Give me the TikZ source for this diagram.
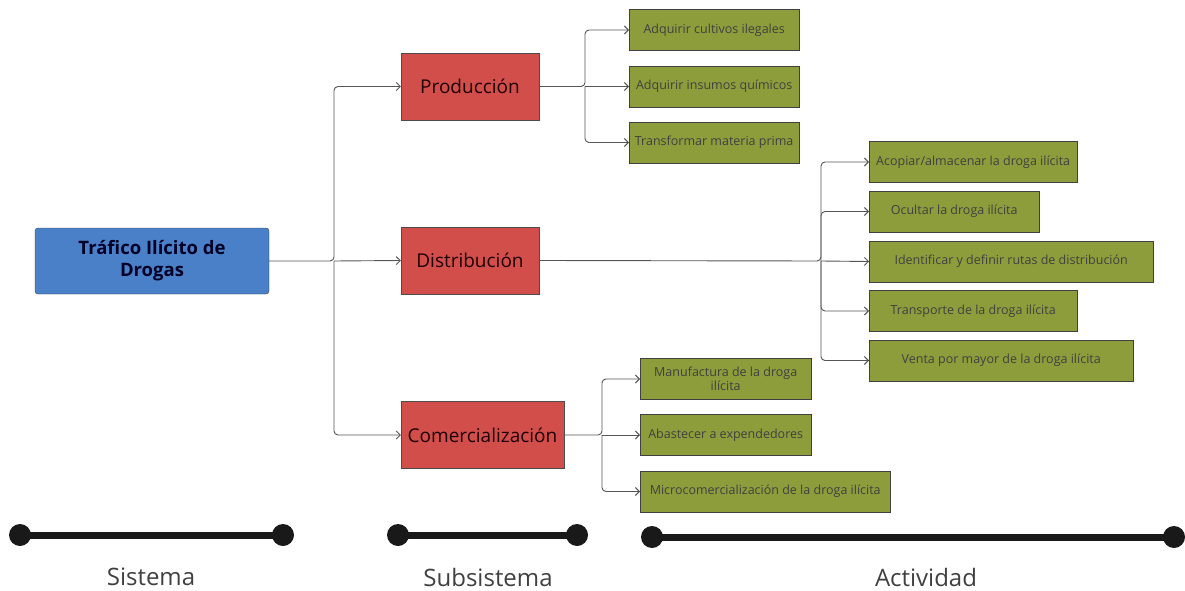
\documentclass[tikz,border=0pt]{standalone}
\usepackage{fontspec}
\setmainfont{Open Sans}
\usepackage{tikz}
\usetikzlibrary{arrows.meta}

\definecolor{sisblue}{HTML}{4A80C8}
\definecolor{subred}{HTML}{D24E4B}
\definecolor{actgreen}{HTML}{8E9D3B}
\definecolor{conngray}{HTML}{555555}

\begin{document}
\begin{tikzpicture}[x=1pt,y=-1pt,
        sistema/.style={draw=black!75,fill=sisblue,rounded corners=3pt,minimum width=234pt,minimum height=66pt,
            align=center,font=\fontsize{18.5}{22}\selectfont\bfseries,text=black!75!blue!60!black},
        subsis/.style={draw=black!70,fill=subred,minimum height=67pt,inner sep=0pt,font=\fontsize{19}{22}\selectfont,text=black!70!red!40!black},
        act/.style={draw=black!75,fill=actgreen,minimum height=41pt,inner sep=0pt,anchor=west,align=center,
            font=\fontsize{12.5}{14}\selectfont,text=black!75},
        conn/.style={draw=conngray,line width=0.9pt,rounded corners=4pt,-{Straight Barb[length=4pt,width=8pt]}},
        bar/.style={line width=7pt,black!90},
        legend/.style={font=\fontsize{24}{28}\selectfont,text=black!75}]

    \useasboundingbox (0,0) rectangle (1185,591);

    % sistema
    \node[sistema] (tra) at (152,261) {Tráfico Ilícito de\\Drogas};

    % subsistemas
    \node[subsis,minimum width=138pt] (prod) at (470,86.5) {Producción};
    \node[subsis,minimum width=138pt] (dist) at (470,260.5) {Distribución};
    \node[subsis,minimum width=163pt] (come) at (482.5,435) {Comercialización};

    % actividades de produccion
    \node[act,minimum width=170pt] (a1) at (629,30) {Adquirir cultivos ilegales};
    \node[act,minimum width=170pt] (a2) at (629,86.5) {Adquirir insumos químicos};
    \node[act,minimum width=170pt] (a3) at (629,142.5) {Transformar materia prima};

    % actividades de distribucion
    \node[act,minimum width=208pt] (b1) at (869,162) {Acopiar/almacenar la droga ilícita};
    \node[act,minimum width=170pt] (b2) at (869,211.5) {Ocultar la droga ilícita};
    \node[act,minimum width=284pt] (b3) at (869,261.5) {Identificar y definir rutas de distribución};
    \node[act,minimum width=208pt] (b4) at (869,311) {Transporte de la droga ilícita};
    \node[act,minimum width=264pt] (b5) at (869,360.5) {Venta por mayor de la droga ilícita};

    % actividades de comercializacion
    \node[act,minimum width=171pt] (c1) at (640,379) {Manufactura de la droga\\ilícita};
    \node[act,minimum width=171pt] (c2) at (640,435) {Abastecer a expendedores};
    \node[act,minimum width=250pt] (c3) at (640,491.5) {Microcomercialización de la droga ilícita};

    % ramas
    \coordinate (tb) at (334,261);
    \coordinate (pb) at (585,86.5);
    \coordinate (db) at (821,261);
    \coordinate (cb) at (602,435);

    \draw[conn] (tra.east) -- (tb) |- (prod.west);
    \draw[conn] (tb) -- (dist.west);
    \draw[conn] (tb) |- (come.west);

    \draw[conn] (prod.east) -- (pb) |- (a1.west);
    \draw[conn] (pb) -- (a2.west);
    \draw[conn] (pb) |- (a3.west);

    \draw[conn] (dist.east) -- (db) |- (b1.west);
    \draw[conn] (db) |- (b2.west);
    \draw[conn] (db) -- (b3.west);
    \draw[conn] (db) |- (b4.west);
    \draw[conn] (db) |- (b5.west);

    \draw[conn] (come.east) -- (cb) |- (c1.west);
    \draw[conn] (cb) -- (c2.west);
    \draw[conn] (cb) |- (c3.west);

    % niveles
    \draw[bar] (20,535) -- (283,535);
    \fill[black!90] (20,535) circle (11) (283,535) circle (11);
    \draw[bar] (398,535) -- (577,535);
    \fill[black!90] (398,535) circle (11) (577,535) circle (11);
    \draw[bar] (652,537) -- (1174,537);
    \fill[black!90] (652,537) circle (11) (1174,537) circle (11);

    \node[legend] (lsis) at (151,577) {Sistema};
    \node[legend] (lsub) at (488,577) {Subsistema};
    \node[legend] (lact) at (926,577) {Actividad};
\end{tikzpicture}
\end{document}
